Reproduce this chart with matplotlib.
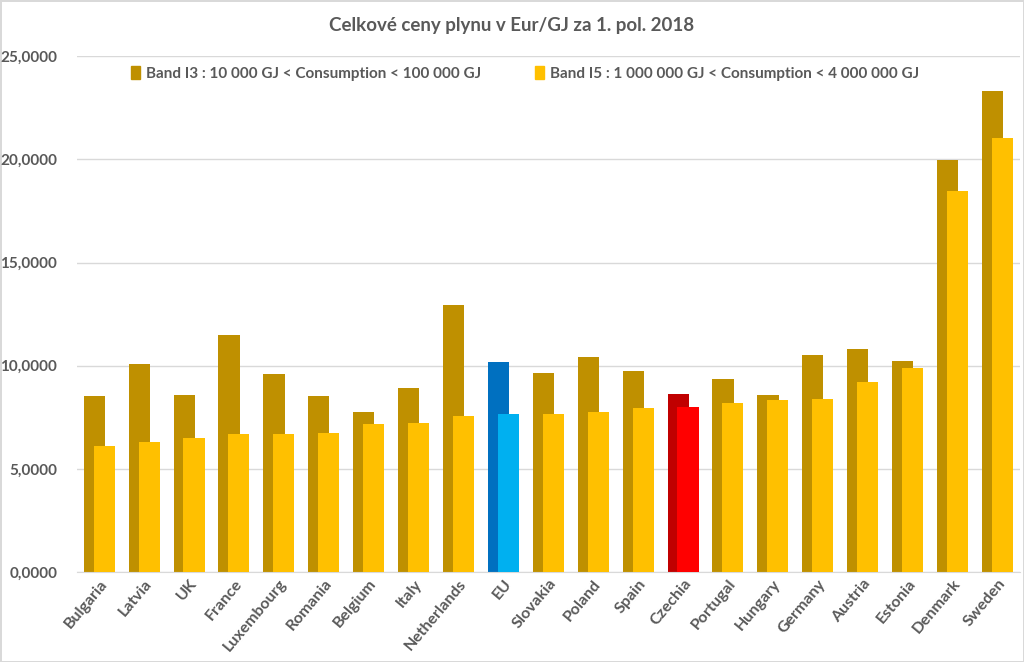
import numpy as np
import matplotlib.pyplot as plt
from matplotlib.ticker import FuncFormatter
from matplotlib.patches import Patch

countries = ["Bulgaria", "Latvia", "UK", "France", "Luxembourg", "Romania", "Belgium",
             "Italy", "Netherlands", "EU", "Slovakia", "Poland", "Spain", "Czechia",
             "Portugal", "Hungary", "Germany", "Austria", "Estonia", "Denmark", "Sweden"]
band_i3 = [8.53, 10.08, 8.58, 11.48, 9.59, 8.53, 7.75, 8.91, 12.94, 10.17, 9.64,
           10.42, 9.74, 8.62, 9.35, 8.58, 10.51, 10.80, 10.22, 19.96, 23.30]
band_i5 = [6.10, 6.30, 6.49, 6.69, 6.69, 6.73, 7.17, 7.22, 7.56, 7.65, 7.65,
           7.75, 7.95, 7.99, 8.19, 8.33, 8.38, 9.21, 9.88, 18.46, 21.03]
label_i3 = "Band I3 : 10 000 GJ < Consumption < 100 000 GJ"
label_i5 = "Band I5 : 1 000 000 GJ < Consumption < 4 000 000 GJ"

plt.rcParams['font.family'] = ['Lato', 'DejaVu Sans']

dark = ["#BF9000"] * len(countries)
light = ["#FFC000"] * len(countries)
dark[countries.index("EU")] = "#0070C0"
light[countries.index("EU")] = "#00B0F0"
dark[countries.index("Czechia")] = "#C00000"
light[countries.index("Czechia")] = "#FF0000"

fig = plt.figure(figsize=(10.24, 6.62), dpi=100)
fig.patch.set_edgecolor("#D9D9D9")
fig.patch.set_linewidth(2)
ax = fig.add_axes([0.075, 0.136, 0.921, 0.779])

x = np.arange(len(countries))
w = 0.47
ax.bar(x - 0.11, band_i3, width=w, color=dark, zorder=2)
ax.bar(x + 0.11, band_i5, width=w, color=light, zorder=3)

ax.set_xlim(-0.5, len(countries) - 0.5)
ax.set_ylim(0, 25)
ax.set_yticks(np.arange(0, 26, 5))
ax.yaxis.set_major_formatter(FuncFormatter(lambda v, p: f"{v:.4f}".replace(".", ",")))
ax.grid(axis="y", color="#D9D9D9", linewidth=1, zorder=0)
ax.set_axisbelow(True)
for s in ["top", "right", "left"]:
    ax.spines[s].set_visible(False)
ax.spines["bottom"].set_color("#D9D9D9")
ax.tick_params(axis="both", length=0, colors="#595959", labelsize=11)
ax.tick_params(axis="y", pad=14)
ax.tick_params(axis="x", labelsize=11.5)
ax.set_xticks(x)
ax.set_xticklabels(countries, rotation=50, ha="right", rotation_mode="anchor",
                   fontweight="bold", color="#595959")
for t in ax.get_yticklabels():
    t.set_fontweight("bold")

handles = [Patch(color="#BF9000", label=label_i3), Patch(color="#FFC000", label=label_i5)]
ax.legend(handles=handles, loc="upper center", bbox_to_anchor=(0.475, 1.008), ncol=2,
          frameon=False, handlelength=0.6, handleheight=0.9,
          columnspacing=3.5, handletextpad=0.4,
          prop={"weight": "bold", "size": 11}, labelcolor="#595959")

fig.text(0.5, 0.962, "Celkové ceny plynu v Eur/GJ za 1. pol. 2018", ha="center",
         va="center", fontsize=13.5, fontweight="bold", color="#595959")

fig.savefig("out.png", dpi=100)
